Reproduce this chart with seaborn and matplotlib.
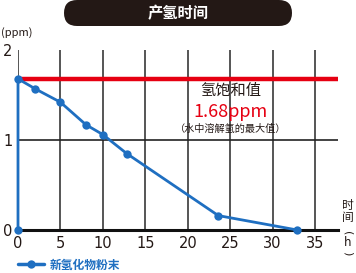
import matplotlib
matplotlib.use("Agg")
import matplotlib.pyplot as plt
from matplotlib.patches import FancyBboxPatch
from matplotlib.lines import Line2D
import seaborn as sns
import pandas as pd

# data
hours = [0, 0, 2, 5, 8, 10, 12.8, 23.6, 32.9]
ppm = [0, 1.68, 1.57, 1.42, 1.17, 1.06, 0.85, 0.16, 0]
saturation = 1.68
x_ticks = [0, 5, 10, 15, 20, 25, 30, 35]
y_ticks = [0, 1, 2]
series_name = "新氢化物粉末"
title = "产氢时间"

sns.set_style("white")
plt.rcParams['font.family'] = ['Noto Sans CJK SC', 'DejaVu Sans']

BLUE = "#1f6fc1"
RED = "#e60012"
DARK = "#231815"

fig = plt.figure(figsize=(3.56, 2.73), dpi=100)
ax = fig.add_axes([18/356, 43/273, 320/356, 180/273])

df = pd.DataFrame({"h": hours, "ppm": ppm})
ax.axhline(saturation, color=RED, lw=3.2, zorder=3)
sns.lineplot(data=df, x="h", y="ppm", sort=False, estimator=None, color=BLUE,
             lw=2, marker="o", markersize=6, markeredgewidth=0, ax=ax, zorder=4,
             clip_on=False)

ax.set_xlim(0, 37.7)
ax.set_ylim(0, 2)
ax.set_xticks(x_ticks)
ax.set_yticks(y_ticks)
ax.grid(axis="x", color="#555555", lw=1.4)
ax.axhline(1, color="#222222", lw=1.2, zorder=1)
for s in ["top", "right", "left"]:
    ax.spines[s].set_visible(False)
ax.spines["bottom"].set_color("#111111")
ax.spines["bottom"].set_linewidth(2.2)
ax.tick_params(length=0, pad=4, labelsize=10.5, colors=DARK)
for lab in ax.get_xticklabels() + ax.get_yticklabels():
    lab.set_family(['Liberation Sans Narrow', 'DejaVu Sans'])
ax.set_xlabel("")
ax.set_ylabel("")

# annotations
ax.text(0.665, 0.775, "氢饱和值", transform=ax.transAxes, ha="center", va="center",
        fontsize=11, color=DARK)
ax.text(0.665, 0.655, "1.68ppm", transform=ax.transAxes, ha="center", va="center",
        fontsize=13, color=RED)
ax.text(0.665, 0.56, "（水中溶解氢的最大值）", transform=ax.transAxes, ha="center", va="center",
        fontsize=7.3, color=DARK)

fig.text(1/356, 1 - 33/273, "(ppm)", ha="left", va="center", fontsize=8, color=DARK)

# right axis label
fig.text(348/356, 1 - 205/273, "时", ha="center", va="center", fontsize=8.5, color=DARK)
fig.text(348/356, 1 - 218/273, "间", ha="center", va="center", fontsize=8.5, color=DARK)
fig.text(348/356, 1 - 233/273, "(", ha="center", va="center", fontsize=8, color=DARK,
         rotation=-90, family="DejaVu Sans")
fig.text(348/356, 1 - 243/273, "h", ha="center", va="center", fontsize=8.5, color=DARK,
         family="DejaVu Sans")
fig.text(348/356, 1 - 253/273, ")", ha="center", va="center", fontsize=8, color=DARK,
         rotation=-90, family="DejaVu Sans")

# title banner
banner = FancyBboxPatch((64, 273 - 26), 228, 26, boxstyle="round,pad=0,rounding_size=13",
                        transform=None, facecolor=DARK, edgecolor="none")
fig.patches.append(banner)
fig.text(178/356, 1 - 13.5/273, title, ha="center", va="center", fontsize=11,
         color="white", fontweight="bold")

# legend
leg_handle = Line2D([], [], color=BLUE, lw=2.5, marker="o", markersize=6, markeredgewidth=0)
leg = fig.legend([leg_handle], [series_name], loc="center left",
                 bbox_to_anchor=(12/356, 1 - 265/273), frameon=False,
                 handlelength=2.2, handletextpad=0.5, fontsize=8.5, borderpad=0)
for t in leg.get_texts():
    t.set_color(BLUE)
    t.set_fontweight("bold")

fig.savefig("out.png", dpi=100)
